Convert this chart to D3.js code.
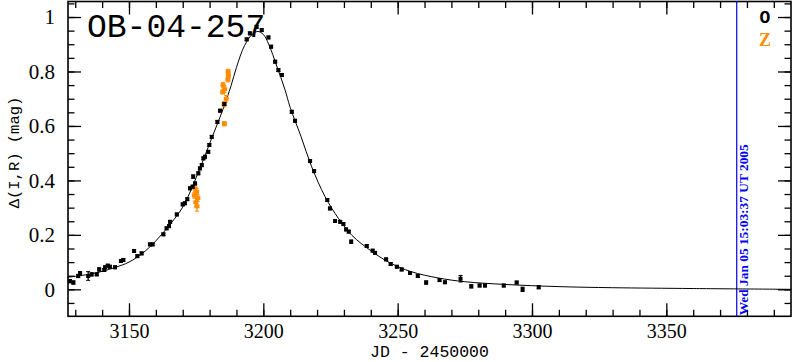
<!DOCTYPE html>
<html>
<head>
<meta charset="utf-8">
<script src="https://cdn.jsdelivr.net/npm/d3@7"></script>
<style>
  body { margin: 0; background: #fff; }
  svg { display: block; }
</style>
</head>
<body>
<div id="chart"></div>
<script>
// observed points, set "O" (black)
const obsT = [3128.0, 3129.3, 3131.1, 3131.8, 3134.8, 3136.1, 3138.0, 3138.9, 3140.8, 3141.1,
  3142.1, 3142.9, 3144.8, 3147.0, 3147.9, 3151.9, 3153.1, 3154.7, 3157.8, 3158.8,
  3162.8, 3164.0, 3164.9, 3165.3, 3167.8, 3170.0, 3170.8, 3171.7, 3172.7, 3173.7,
  3174.6, 3173.9, 3175.8, 3176.4, 3177.1, 3177.7, 3178.3, 3179.5, 3179.9, 3180.8,
  3182.9, 3183.9, 3185.5, 3193.8, 3195.0, 3197.5, 3199.4, 3201.9, 3202.9, 3204.4,
  3205.6, 3206.9, 3210.6, 3211.8, 3217.4, 3218.9, 3223.8, 3224.8, 3226.7, 3228.6,
  3229.8, 3230.8, 3231.8, 3232.7, 3238.5, 3240.7, 3241.6, 3245.7, 3247.4, 3249.7,
  3251.5, 3254.6, 3257.5, 3260.6, 3265.6, 3267.6, 3273.4, 3277.4, 3280.5, 3282.5,
  3289.5, 3294.3, 3296.5, 3302.5];
const obsMag = [0.030, 0.025, 0.049, 0.059, 0.049, 0.055, 0.055, 0.073, 0.071, 0.081,
  0.087, 0.083, 0.081, 0.104, 0.108, 0.141, 0.122, 0.132, 0.165, 0.165,
  0.202, 0.224, 0.232, 0.248, 0.275, 0.312, 0.316, 0.331, 0.371, 0.377,
  0.389, 0.414, 0.426, 0.444, 0.456, 0.481, 0.487, 0.505, 0.530, 0.560,
  0.615, 0.656, 0.680, 0.918, 0.940, 0.964, 0.952, 0.925, 0.891, 0.836,
  0.805, 0.787, 0.652, 0.619, 0.471, 0.434, 0.328, 0.297, 0.251, 0.248,
  0.240, 0.220, 0.212, 0.175, 0.159, 0.142, 0.134, 0.110, 0.093, 0.083,
  0.073, 0.060, 0.049, 0.025, 0.034, 0.026, 0.039, 0.011, 0.014, 0.014,
  0.014, 0.025, 0.000, 0.008];
const obsErr = [0.006, 0.006, 0.006, 0.006, 0.016, 0.006, 0.005, 0.006, 0.005, 0.005,
  0.005, 0.005, 0.005, 0.005, 0.005, 0.005, 0.005, 0.005, 0.005, 0.005,
  0.005, 0.005, 0.005, 0.005, 0.005, 0.005, 0.005, 0.005, 0.005, 0.005,
  0.005, 0.006, 0.005, 0.005, 0.005, 0.005, 0.005, 0.005, 0.005, 0.005,
  0.005, 0.005, 0.005, 0.005, 0.005, 0.005, 0.005, 0.005, 0.005, 0.005,
  0.005, 0.005, 0.005, 0.005, 0.005, 0.005, 0.005, 0.005, 0.005, 0.005,
  0.005, 0.005, 0.005, 0.006, 0.005, 0.005, 0.005, 0.005, 0.005, 0.005,
  0.005, 0.005, 0.005, 0.006, 0.005, 0.005, 0.012, 0.006, 0.005, 0.005,
  0.005, 0.005, 0.008, 0.006];

// observed points, set "Z" (orange)
const zT   = [3186.9, 3187.0, 3186.8, 3185.0, 3185.6, 3184.9, 3186.2, 3185.4, 3185.5,
  3174.6, 3175.2, 3174.3, 3175.6, 3174.9, 3175.3];
const zMag = [0.800, 0.785, 0.770, 0.750, 0.735, 0.725, 0.700, 0.680, 0.608,
  0.370, 0.358, 0.345, 0.335, 0.320, 0.305];
const zErr = [0.008, 0.010, 0.008, 0.010, 0.012, 0.008, 0.012, 0.010, 0.008,
  0.010, 0.012, 0.010, 0.012, 0.015, 0.018];

// model curve
const modelT   = [3127, 3135, 3140, 3145, 3150, 3155, 3160, 3165, 3170, 3175, 3180, 3185,
  3188, 3190, 3193, 3196, 3198, 3200, 3202, 3205, 3208, 3210, 3214, 3218, 3223,
  3228, 3233, 3240, 3247, 3255, 3265, 3275, 3290, 3310, 3330, 3360, 3397];
const modelMag = [0.044, 0.055, 0.066, 0.081, 0.100, 0.132, 0.178, 0.235, 0.302, 0.410, 0.535, 0.662,
  0.748, 0.815, 0.895, 0.938, 0.947, 0.936, 0.900, 0.820, 0.735, 0.668, 0.562, 0.450, 0.340,
  0.260, 0.198, 0.142, 0.098, 0.065, 0.042, 0.028, 0.018, 0.010, 0.006, 0.003, 0.000];

const xTickVals = [3150, 3200, 3250, 3300, 3350];
const yTickVals = [0, 0.2, 0.4, 0.6, 0.8, 1];
const markerDate = 3376.2;

const W = 792, H = 362;
const L = 68, R = 791, T = 1.5, B = 316.3;

const svg = d3.select("#chart").append("svg")
  .attr("width", W).attr("height", H);

const x = d3.scaleLinear().domain([3127.3, 3396.4]).range([L, R]);
const y = d3.scaleLinear().domain([-0.099, 1.057]).range([B, T]);

const xMinor = d3.range(3130, 3396, 10);
const yMinor = d3.range(-0.05, 1.06, 0.05);
const serif = "'Liberation Serif', 'Times New Roman', serif";
const mono = "'Liberation Mono', 'DejaVu Sans Mono', monospace";

// axes, ticks pointing inward on all four sides
function styleAxis(g) {
  g.select(".domain").remove();
  g.selectAll("line").attr("stroke", "#000").attr("stroke-width", 1.3);
}

svg.append("g").attr("transform", `translate(0,${B})`)
  .call(d3.axisBottom(x).tickValues(xTickVals).tickSize(-13).tickFormat(d3.format("d")))
  .call(styleAxis)
  .call(g => g.selectAll("text").attr("y", 22).attr("dy", 0)
    .style("font-family", serif).style("font-size", "20px").attr("fill", "#000"));
svg.append("g").attr("transform", `translate(0,${B})`)
  .call(d3.axisBottom(x).tickValues(xMinor).tickSize(-6.5).tickFormat(""))
  .call(styleAxis);
svg.append("g").attr("transform", `translate(0,${T})`)
  .call(d3.axisTop(x).tickValues(xTickVals).tickSize(-13).tickFormat(""))
  .call(styleAxis);
svg.append("g").attr("transform", `translate(0,${T})`)
  .call(d3.axisTop(x).tickValues(xMinor).tickSize(-6.5).tickFormat(""))
  .call(styleAxis);

svg.append("g").attr("transform", `translate(${L},0)`)
  .call(d3.axisLeft(y).tickValues(yTickVals).tickSize(-13).tickPadding(13)
    .tickFormat(d => String(+d.toFixed(1))))
  .call(styleAxis)
  .call(g => g.selectAll("text").style("font-family", serif)
    .style("font-size", "21px").attr("fill", "#000"));
svg.append("g").attr("transform", `translate(${L},0)`)
  .call(d3.axisLeft(y).tickValues(yMinor).tickSize(-6.5).tickFormat(""))
  .call(styleAxis);
svg.append("g").attr("transform", `translate(${R},0)`)
  .call(d3.axisRight(y).tickValues(yTickVals).tickSize(-13).tickFormat(""))
  .call(styleAxis);
svg.append("g").attr("transform", `translate(${R},0)`)
  .call(d3.axisRight(y).tickValues(yMinor).tickSize(-6.5).tickFormat(""))
  .call(styleAxis);

// frame
svg.append("rect")
  .attr("x", L).attr("y", T).attr("width", R - L).attr("height", B - T)
  .attr("fill", "none").attr("stroke", "#000").attr("stroke-width", 1.6);

// date marker
svg.append("line")
  .attr("x1", x(markerDate)).attr("x2", x(markerDate))
  .attr("y1", T).attr("y2", B)
  .attr("stroke", "#0000ff").attr("stroke-width", 1.2);
svg.append("text")
  .attr("transform", `translate(${x(markerDate) + 11},${B - 1}) rotate(-90)`)
  .attr("textLength", 171).attr("lengthAdjust", "spacingAndGlyphs")
  .style("font-family", serif).style("font-size", "13px").style("font-weight", "bold")
  .attr("fill", "#0000ff")
  .text("Wed Jan 05 15:03:37 UT 2005");

// model
const model = modelT.map((t, i) => [t, modelMag[i]]);
svg.append("path")
  .datum(model)
  .attr("fill", "none").attr("stroke", "#000").attr("stroke-width", 1)
  .attr("d", d3.line().x(d => x(d[0])).y(d => y(d[1])).curve(d3.curveCatmullRom));

// data points with error bars
function drawSet(ts, ms, es, color, w) {
  const pts = ts.map((t, i) => ({ t, m: ms[i], e: es[i] }));
  const g = svg.append("g").attr("stroke", color).attr("fill", color);
  g.selectAll(".eb").data(pts).enter().append("line")
    .attr("x1", d => x(d.t)).attr("x2", d => x(d.t))
    .attr("y1", d => y(d.m - d.e)).attr("y2", d => y(d.m + d.e))
    .attr("stroke-width", 1.3);
  g.selectAll(".cap").data(pts.flatMap(d => [{ t: d.t, v: d.m - d.e }, { t: d.t, v: d.m + d.e }]))
    .enter().append("line")
    .attr("x1", d => x(d.t) - 2).attr("x2", d => x(d.t) + 2)
    .attr("y1", d => y(d.v)).attr("y2", d => y(d.v))
    .attr("stroke-width", 1);
  g.selectAll(".pt").data(pts).enter().append("rect")
    .attr("x", d => x(d.t) - w / 2).attr("y", d => y(d.m) - 2)
    .attr("width", w).attr("height", 4)
    .attr("stroke", "none");
}
drawSet(zT, zMag, zErr, "#ff8c00", 5);
drawSet(obsT, obsMag, obsErr, "#000", 4);

// title
svg.append("text")
  .attr("x", 87).attr("y", 37)
  .style("font-family", mono).style("font-size", "33px")
  .attr("fill", "#000")
  .text("OB-04-257");

// legend
svg.append("text").attr("x", 765).attr("y", 23).attr("text-anchor", "middle")
  .style("font-family", mono).style("font-size", "18px").style("font-weight", "bold")
  .attr("fill", "#000").text("O");
svg.append("text").attr("x", 765).attr("y", 46).attr("text-anchor", "middle")
  .style("font-family", serif).style("font-size", "18px").style("font-weight", "bold")
  .attr("fill", "#ff8c00").text("Z");

// axis labels
svg.append("text")
  .attr("x", (L + R) / 2).attr("y", 356.5).attr("text-anchor", "middle")
  .style("font-family", mono).style("font-size", "16.5px")
  .attr("fill", "#000").text("JD - 2450000");
svg.append("text")
  .attr("transform", `translate(19,152.5) rotate(-90)`).attr("text-anchor", "middle")
  .style("font-family", mono).style("font-size", "15.5px")
  .attr("fill", "#000").text("Δ(I,R) (mag)");
</script>
</body>
</html>
